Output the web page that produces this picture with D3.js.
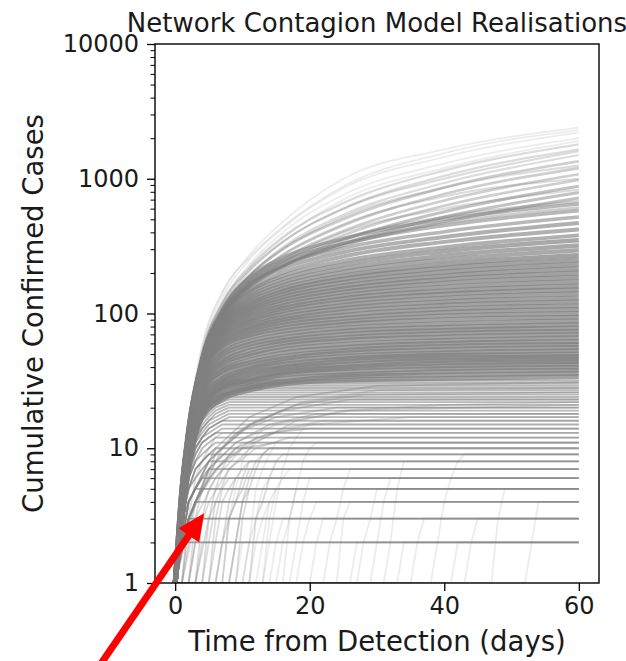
<!DOCTYPE html>
<html>
<head>
<meta charset="utf-8">
<script src="https://cdn.jsdelivr.net/npm/d3@7"></script>
<style>
  body { margin: 0; background: #fff; }
  svg text { font-family: "DejaVu Sans", sans-serif; fill: #1a1a1a; }
</style>
</head>
<body>
<svg id="chart" width="626" height="661"></svg>
<script>
const DAYS = [0, 1, 2, 4, 7, 11, 16, 25, 40, 60]

// realisations that keep growing until day 60 (cases at each of DAYS)
const growingRuns = [
  [1, 5, 15, 55, 140, 270, 480, 1000, 1650, 2400],
  [1, 5, 15, 52, 130, 250, 430, 850, 1450, 2200],
  [1, 4, 14, 50, 120, 230, 400, 760, 1300, 2000],
  [1, 5, 14, 50, 120, 220, 370, 660, 1150, 1800],
  [1, 4, 13, 46, 110, 205, 340, 600, 1050, 1650],
  [1, 4, 13, 45, 105, 190, 310, 540, 930, 1500],
  [1, 5, 14, 48, 110, 190, 300, 500, 860, 1350],
  [1, 4, 13, 45, 100, 175, 270, 450, 770, 1200],
  [1, 5, 14, 46, 100, 170, 255, 410, 690, 1080],
  [1, 4, 13, 44, 95, 160, 240, 380, 630, 980],
  [1, 5, 14, 45, 95, 155, 225, 350, 570, 880],
  [1, 4, 13, 42, 95, 160, 225, 330, 520, 790],
  [1, 5, 14, 46, 100, 165, 225, 320, 480, 720],
  [1, 4, 13, 45, 105, 185, 260, 360, 500, 650],
  [1, 5, 14, 46, 105, 180, 245, 330, 450, 580],
  [1, 4, 14, 45, 100, 170, 230, 305, 405, 520],
  [1, 5, 14, 46, 98, 160, 215, 285, 370, 470],
  [1, 4, 13, 44, 95, 150, 200, 265, 340, 420],
  [1, 5, 14, 46, 95, 145, 190, 245, 310, 380],
  [1, 4, 13, 44, 92, 140, 180, 230, 290, 350],
  [1, 5, 14, 44, 90, 133, 170, 215, 268, 320],
  [1, 4, 13, 43, 88, 128, 162, 203, 250, 295],
  [1, 5, 14, 44, 86, 122, 153, 190, 232, 270],
  [1, 4, 13, 42, 84, 117, 146, 180, 217, 250],
  [1, 5, 13, 43, 82, 112, 139, 170, 203, 232],
  [1, 4, 13, 41, 80, 108, 132, 160, 190, 215],
  [1, 4, 12, 40, 78, 104, 126, 152, 179, 200],
  [1, 5, 13, 42, 76, 100, 120, 144, 168, 186],
  [1, 4, 12, 39, 74, 96, 114, 136, 157, 172],
  [1, 4, 13, 40, 72, 92, 109, 129, 147, 160],
  [1, 4, 12, 38, 70, 88, 104, 122, 139, 150],
  [1, 5, 13, 39, 68, 85, 99, 115, 130, 140],
  [1, 4, 12, 37, 66, 81, 94, 109, 122, 130],
  [1, 4, 11, 36, 63, 78, 90, 103, 115, 122],
  [1, 4, 12, 36, 61, 75, 86, 97, 108, 114],
  [1, 4, 11, 35, 59, 72, 82, 92, 102, 107],
  [1, 4, 12, 35, 57, 69, 78, 87, 96, 100],
  [1, 4, 11, 33, 54, 66, 74, 83, 90, 94],
  [1, 3, 10, 31, 51, 62, 70, 78, 84, 88],
  [1, 4, 11, 31, 49, 59, 66, 74, 79, 83],
  [1, 3, 10, 30, 46, 56, 63, 70, 75, 78],
  [1, 4, 11, 30, 44, 53, 60, 66, 71, 74],
  [1, 3, 10, 29, 42, 50, 57, 63, 67, 70],
  [1, 3, 10, 28, 40, 48, 54, 59, 63, 66],
  [1, 4, 10, 27, 38, 45, 51, 56, 60, 62],
  [1, 3, 9, 26, 37, 43, 48, 53, 57, 59],
  [1, 3, 9, 25, 35, 41, 46, 51, 54, 56],
  [1, 3, 9, 24, 33, 39, 44, 48, 51, 53],
  [1, 3, 9, 23, 32, 38, 42, 46, 49, 50],
  [1, 3, 8, 22, 31, 36, 40, 44, 47, 48],
  [1, 3, 8, 21, 30, 35, 39, 42, 45, 46],
  [1, 3, 8, 20, 29, 33, 37, 40, 43, 44],
  [1, 3, 8, 20, 28, 32, 36, 39, 41, 42],
  [1, 3, 8, 19, 27, 31, 35, 37, 39, 40],
  [1, 3, 7, 18, 25, 29, 33, 35, 37, 38],
  [1, 3, 7, 18, 24, 28, 31, 34, 35, 36],
  [1, 3, 7, 17, 23, 27, 30, 32, 33, 34],
  // fainter paths in the upper fan
  [1, 5, 16, 58, 145, 260, 440, 880, 1550, 2300],
  [1, 4, 14, 48, 115, 215, 360, 700, 1200, 1900],
  [1, 5, 14, 50, 118, 210, 340, 600, 1000, 1600],
  [1, 4, 13, 46, 108, 190, 300, 520, 860, 1250],
  [1, 5, 14, 47, 105, 180, 275, 460, 740, 1000],
  [1, 4, 13, 45, 100, 170, 250, 400, 600, 830],
  [1, 5, 14, 46, 100, 165, 240, 360, 520, 680],
  [1, 4, 13, 44, 96, 160, 225, 330, 470, 610]
]
// how many realisations share each of those paths
const growingCounts = [
  1, 1, 1, 2, 2, 2,
  3, 3, 3, 3, 4,
  4, 4, 5, 5,
  5, 6, 6,
  6, 7, 7,
  7, 8, 8, 8,
  8, 8, 8, 8, 8, 8, 8, 8, 8, 8, 8, 8, 8, 8, 8, 8,
  8, 8, 8, 8, 8, 8, 8, 8, 8, 8, 8, 8, 8, 8, 8, 8,
  1, 1, 2, 2, 2, 2, 3, 3
]

// realisations that stop growing: [day the rise starts, cases on that day and each day after]
// the last value is held flat until day 60
const plateauRuns = [
  [0, 1, 2], [3, 1, 2], [9, 1, 2], [26, 1, 2], [41, 1, 2],
  [0, 1, 2, 3], [2, 1, 2, 3], [14, 1, 2, 3], [35, 1, 2, 3],
  [0, 1, 2, 3, 4], [4, 1, 2, 4], [18, 1, 2, 3, 4], [52, 1, 2, 4],
  [0, 1, 2, 4, 5], [1, 1, 3, 4, 5], [11, 1, 2, 3, 4, 5], [47, 1, 3, 5],
  [0, 1, 3, 4, 5, 6], [5, 1, 2, 4, 5, 6], [29, 1, 2, 4, 6],
  [0, 1, 2, 4, 5, 6, 7], [3, 1, 3, 5, 6, 7], [22, 1, 2, 3, 5, 7],
  [0, 1, 3, 5, 6, 7, 8], [6, 1, 2, 4, 6, 7, 8], [31, 1, 2, 5, 8],
  [0, 1, 3, 5, 7, 8, 9], [2, 1, 3, 5, 6, 8, 9], [38, 1, 2, 4, 6, 8, 9],
  [0, 1, 3, 5, 7, 8, 9, 10], [8, 1, 2, 4, 6, 8, 9, 10],
  [0, 1, 3, 6, 8, 9, 10, 11], [4, 1, 3, 5, 7, 9, 10, 11],
  [0, 1, 3, 6, 8, 10, 11, 12], [10, 1, 2, 5, 7, 9, 11, 12],
  [0, 1, 4, 7, 9, 11, 12, 13], [1, 1, 3, 6, 8, 10, 12, 13],
  [0, 1, 3, 6, 9, 11, 12, 13, 14], [7, 1, 3, 5, 8, 10, 12, 14],
  [0, 1, 4, 7, 10, 12, 13, 14, 15], [13, 1, 2, 4, 7, 10, 12, 14, 15],
  [0, 1, 4, 7, 10, 12, 14, 15, 16],
  [0, 1, 3, 7, 10, 12, 14, 15, 16, 17],
  [0, 1, 4, 8, 11, 13, 15, 16, 17, 18],
  [0, 1, 4, 8, 11, 14, 16, 17, 18, 19],
  [0, 1, 5, 8, 12, 14, 16, 18, 19, 20],
  [0, 1, 4, 8, 12, 15, 17, 19, 20, 21],
  [0, 1, 5, 9, 13, 16, 18, 20, 21, 22],
  [0, 1, 4, 9, 13, 16, 19, 21, 22, 23],
  [0, 1, 5, 9, 13, 17, 19, 21, 23, 24],
  [0, 1, 5, 10, 14, 17, 20, 22, 24, 25],
  [0, 1, 4, 9, 14, 18, 21, 23, 25, 26],
  [0, 1, 5, 10, 15, 18, 21, 24, 25, 26, 27],
  [0, 1, 5, 10, 15, 19, 22, 24, 26, 27, 28],
  [0, 1, 6, 11, 15, 19, 22, 25, 27, 28, 29],
  [0, 1, 5, 11, 16, 20, 23, 26, 28, 29, 30],
  [0, 1, 5, 10, 15, 20, 23, 26, 28, 30, 31],
  [0, 1, 6, 11, 16, 20, 24, 27, 29, 31, 32],
  // late starters that climb steeply out of the single case
  [5, 1, 3, 5, 6], [6, 1, 2, 3, 4, 5, 7], [7, 1, 3, 4, 6, 8], [8, 1, 2, 4, 5],
  [9, 1, 3, 5, 7, 9, 10], [10, 1, 2, 3, 5, 6], [11, 1, 3, 4, 6, 8, 9], [12, 1, 2, 4],
  [13, 1, 3, 5, 6, 7], [15, 1, 2, 3, 5], [16, 1, 3, 5, 8, 10, 11], [17, 1, 2, 4, 6],
  [20, 1, 2, 3], [24, 1, 3, 4], [27, 1, 2, 3, 5], [33, 1, 2], [43, 1, 2, 3]
]
const plateauCounts = [
  8, 2, 1, 1, 1,
  8, 2, 1, 1,
  7, 2, 1, 1,
  7, 2, 1, 1,
  6, 2, 1,
  6, 2, 1,
  6, 2, 1,
  6, 2, 1,
  6, 2,
  5, 2,
  5, 1,
  5, 2,
  5, 1,
  5, 1,
  5, 5, 5, 5, 5, 5, 5, 5, 5, 5, 5, 5, 5, 5, 5, 5, 5,
  2, 2, 2, 2,
  2, 1, 2, 1,
  1, 1, 1, 1,
  1, 1, 1, 1, 1
]

// slower realisations that level off between 10 and 30 cases: [day, cases] points
const slowRuns = [
  [[0, 1], [1, 2], [3, 4], [6, 7], [10, 10], [15, 11], [60, 11]],
  [[2, 1], [3, 2], [5, 4], [8, 7], [12, 10], [17, 12], [60, 12]],
  [[0, 1], [2, 3], [5, 6], [9, 10], [14, 13], [20, 14], [60, 14]],
  [[1, 1], [3, 3], [6, 6], [10, 10], [16, 14], [22, 16], [60, 16]],
  [[0, 1], [3, 4], [7, 8], [12, 12], [20, 15], [35, 17], [60, 17]],
  [[0, 1], [2, 3], [5, 7], [9, 11], [14, 15], [21, 18], [60, 18]],
  [[0, 1], [2, 4], [5, 8], [9, 13], [15, 17], [24, 20], [60, 20]],
  [[3, 1], [5, 3], [8, 7], [12, 11], [18, 16], [26, 19], [60, 21]],
  [[0, 1], [2, 3], [5, 7], [9, 11], [15, 15], [25, 19], [40, 21], [60, 22]],
  [[0, 1], [2, 4], [5, 8], [10, 14], [16, 19], [26, 23], [60, 23]],
  [[0, 1], [2, 3], [6, 9], [11, 15], [18, 21], [28, 25], [60, 26]],
  [[1, 1], [3, 4], [7, 10], [12, 16], [19, 22], [30, 27], [60, 28]],
  [[0, 1], [2, 4], [6, 10], [11, 17], [18, 24], [30, 29], [60, 31]]
]
const slowCounts = [3, 2, 3, 2, 2, 3, 3, 2, 2, 3, 3, 2, 3]

const xTicks = [0, 20, 40, 60]
const yTicks = [1, 10, 100, 1000, 10000]

// arrow annotation: tip in data units, tail in pixels below the axes
const arrowTip = { day: 4.3, cases: 3.3 }
const arrowTail = { px: 98, py: 668 }

// opacity of one realisation line
const ALPHA = 0.15
const GREY = "#808080"

const margin = { top: 44, right: 27, bottom: 78, left: 155 }
const width = 626 - margin.left - margin.right
const height = 661 - margin.top - margin.bottom

const svg = d3.select("#chart")

const x = d3.scaleLinear().domain([-3, 63]).range([0, width])
const y = d3.scaleLog().domain([1, 10000]).range([height, 0])

svg.append("defs").append("clipPath")
    .attr("id", "plotClip")
  .append("rect")
    .attr("width", width)
    .attr("height", height)

const group = svg.append("g")
    .attr("transform", `translate(${margin.left}, ${margin.top})`)

const runs = group.append("g").attr("clip-path", "url(#plotClip)")

const opacityFor = n => 1 - Math.pow(1 - ALPHA, n)
// a path standing for several realisations is drawn as a wider bundle
const widthFor = n => 1.3 + 0.45 * n

// growing realisations, smoothed between the read points
const growLine = d3.line()
    .x(d => x(d[0]))
    .y(d => y(d[1]))
    .curve(d3.curveMonotoneX)

runs.append("g").selectAll("path")
    .data(growingRuns)
    .enter()
    .append("path")
        .attr("d", r => growLine(DAYS.map((d, i) => [d, r[i]])))
        .attr("fill", "none")
        .attr("stroke", GREY)
        .attr("stroke-width", (r, i) => widthFor(growingCounts[i]))
        .attr("stroke-opacity", (r, i) => opacityFor(growingCounts[i]))

// realisations that level off, drawn day by day
const stepLine = d3.line()
    .x(d => x(d[0]))
    .y(d => y(d[1]))

const plateauPoints = r => {
    const start = r[0]
    const vals = r.slice(1)
    const pts = []
    if (start > 0) pts.push([0, 1])
    vals.forEach((v, i) => pts.push([start + i, v]))
    pts.push([60, vals[vals.length - 1]])
    return pts
}

runs.append("g").selectAll("path")
    .data(plateauRuns)
    .enter()
    .append("path")
        .attr("d", r => stepLine(plateauPoints(r)))
        .attr("fill", "none")
        .attr("stroke", GREY)
        .attr("stroke-width", 1.8)
        .attr("stroke-opacity", (r, i) => opacityFor(plateauCounts[i]))

runs.append("g").selectAll("path")
    .data(slowRuns)
    .enter()
    .append("path")
        .attr("d", r => stepLine(r[0][0] > 0 ? [[0, 1]].concat(r) : r))
        .attr("fill", "none")
        .attr("stroke", GREY)
        .attr("stroke-width", 1.8)
        .attr("stroke-opacity", (r, i) => opacityFor(slowCounts[i]))

// axes
const tickFont = "24px"

const yAxis = group.append("g")
    .call(d3.axisLeft(y).tickValues(yTicks).tickFormat(d3.format("d")).tickSize(8).tickPadding(8))
yAxis.select(".domain").remove()
yAxis.selectAll("line").attr("stroke", "#000").attr("stroke-width", 1.3)
yAxis.selectAll("text").attr("font-size", tickFont).attr("fill", "#1a1a1a")

const minorTicks = []
yTicks.slice(0, -1).forEach(dec => {
    for (let k = 2; k <= 9; k++) minorTicks.push(dec * k)
})
const yMinor = group.append("g")
    .call(d3.axisLeft(y).tickValues(minorTicks).tickFormat("").tickSize(4.5))
yMinor.select(".domain").remove()
yMinor.selectAll("line").attr("stroke", "#000").attr("stroke-width", 1)

const xAxis = group.append("g")
    .attr("transform", `translate(0, ${height})`)
    .call(d3.axisBottom(x).tickValues(xTicks).tickSize(8).tickPadding(6))
xAxis.select(".domain").remove()
xAxis.selectAll("line").attr("stroke", "#000").attr("stroke-width", 1.3)
xAxis.selectAll("text").attr("font-size", tickFont).attr("fill", "#1a1a1a")

// frame
group.append("rect")
    .attr("width", width)
    .attr("height", height)
    .attr("fill", "none")
    .attr("stroke", "#000")
    .attr("stroke-width", 1.4)

// titles
svg.append("text")
    .attr("x", margin.left + width / 2)
    .attr("y", 32)
    .attr("text-anchor", "middle")
    .attr("font-size", "26px")
    .text("Network Contagion Model Realisations")

svg.append("text")
    .attr("x", margin.left + width / 2)
    .attr("y", 651)
    .attr("text-anchor", "middle")
    .attr("font-size", "27.5px")
    .text("Time from Detection (days)")

svg.append("text")
    .attr("transform", `translate(43, ${margin.top + height / 2}) rotate(-90)`)
    .attr("text-anchor", "middle")
    .attr("font-size", "27.5px")
    .text("Cumulative Confirmed Cases")

// red arrow annotation
const tipX = margin.left + x(arrowTip.day)
const tipY = margin.top + y(arrowTip.cases)
const dx = tipX - arrowTail.px
const dy = tipY - arrowTail.py
const len = Math.hypot(dx, dy)
const ux = dx / len, uy = dy / len
const headLen = 27, headHalf = 12.5
const baseX = tipX - ux * headLen, baseY = tipY - uy * headLen

svg.append("line")
    .attr("x1", arrowTail.px).attr("y1", arrowTail.py)
    .attr("x2", baseX + ux * 2).attr("y2", baseY + uy * 2)
    .attr("stroke", "#ff0000")
    .attr("stroke-width", 7)

svg.append("path")
    .attr("d", `M${tipX},${tipY} L${baseX - uy * headHalf},${baseY + ux * headHalf} L${baseX + uy * headHalf},${baseY - ux * headHalf} Z`)
    .attr("fill", "#ff0000")
</script>
</body>
</html>
